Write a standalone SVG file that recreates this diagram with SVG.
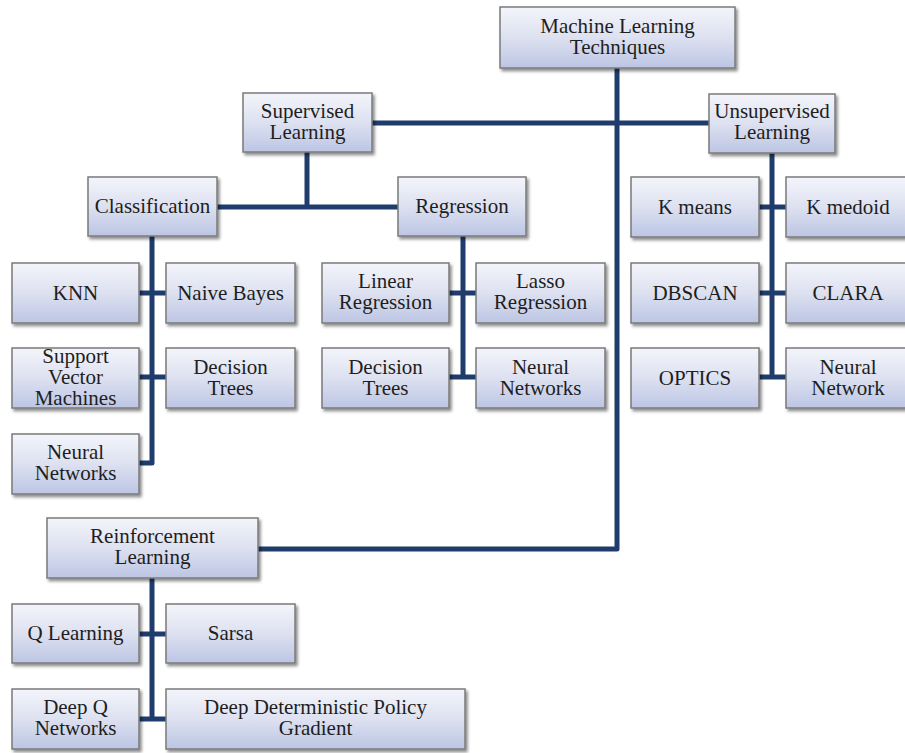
<svg xmlns="http://www.w3.org/2000/svg" width="905" height="753" viewBox="0 0 905 753">
  <defs>
    <linearGradient id="boxFill" x1="0" y1="0" x2="0" y2="1">
      <stop offset="0" stop-color="#f4f5fb"/>
      <stop offset="0.5" stop-color="#dde1f0"/>
      <stop offset="1" stop-color="#bcc5e4"/>
    </linearGradient>
    <filter id="shadow" x="-10%" y="-10%" width="130%" height="140%">
      <feDropShadow dx="2" dy="2.5" stdDeviation="1.6" flood-color="#000" flood-opacity="0.45"/>
    </filter>
  </defs>
  <style>
    .box { fill: url(#boxFill); stroke: #7a7a7a; stroke-width: 1.5; filter: url(#shadow); }
    .lbl { font-family: "Times New Roman", "Liberation Serif", serif; font-size: 21px; fill: #1e1e1e; text-anchor: middle; }
    .wire { fill: none; stroke: #1f3d6c; stroke-width: 5; stroke-linejoin: round; }
  </style>
  <rect width="905" height="753" fill="#ffffff"/>

  <!-- connectors -->
  <g id="connectors" class="wire">
    <!-- root trunk -->
    <path d="M617 68 V549 H258"/>
    <path d="M372 123 H709"/>
    <!-- supervised -->
    <path d="M307 152 V207"/>
    <path d="M217 207 H399"/>
    <!-- classification -->
    <path d="M152 236 V463 H139"/>
    <path d="M139 293 H166"/>
    <path d="M139 377 H166"/>
    <!-- regression -->
    <path d="M463 236 V377"/>
    <path d="M449 293 H476"/>
    <path d="M449 377 H476"/>
    <!-- unsupervised -->
    <path d="M772 153 V377"/>
    <path d="M759 207 H786"/>
    <path d="M759 293 H786"/>
    <path d="M759 377 H786"/>
    <!-- reinforcement -->
    <path d="M152 578 V719"/>
    <path d="M139 634 H166"/>
    <path d="M139 719 H166"/>
  </g>

  <!-- nodes -->
  <g id="ml-techniques">
    <rect class="box" x="500" y="7" width="235" height="61"/>
    <text class="lbl" x="617.5" y="33">Machine Learning</text>
    <text class="lbl" x="617.5" y="54">Techniques</text>
  </g>
  <g id="supervised">
    <rect class="box" x="243" y="93" width="129" height="59"/>
    <text class="lbl" x="307.5" y="118">Supervised</text>
    <text class="lbl" x="307.5" y="139">Learning</text>
  </g>
  <g id="unsupervised">
    <rect class="box" x="709" y="94" width="126" height="59"/>
    <text class="lbl" x="772" y="118">Unsupervised</text>
    <text class="lbl" x="772" y="139">Learning</text>
  </g>
  <g id="classification">
    <rect class="box" x="88" y="177" width="129" height="59"/>
    <text class="lbl" x="152.5" y="213">Classification</text>
  </g>
  <g id="regression">
    <rect class="box" x="398" y="177" width="128" height="59"/>
    <text class="lbl" x="462" y="213">Regression</text>
  </g>
  <g id="knn">
    <rect class="box" x="12" y="263" width="127" height="60"/>
    <text class="lbl" x="75.5" y="300">KNN</text>
  </g>
  <g id="naive-bayes">
    <rect class="box" x="166" y="263" width="129" height="60"/>
    <text class="lbl" x="230.5" y="300">Naive Bayes</text>
  </g>
  <g id="svm">
    <rect class="box" x="12" y="348" width="127" height="60"/>
    <text class="lbl" x="75.5" y="363">Support</text>
    <text class="lbl" x="75.5" y="384">Vector</text>
    <text class="lbl" x="75.5" y="405">Machines</text>
  </g>
  <g id="decision-trees-c">
    <rect class="box" x="166" y="348" width="129" height="60"/>
    <text class="lbl" x="230.5" y="374">Decision</text>
    <text class="lbl" x="230.5" y="395">Trees</text>
  </g>
  <g id="neural-networks-c">
    <rect class="box" x="12" y="434" width="127" height="60"/>
    <text class="lbl" x="75.5" y="459">Neural</text>
    <text class="lbl" x="75.5" y="480">Networks</text>
  </g>
  <g id="linear-regression">
    <rect class="box" x="322" y="263" width="127" height="60"/>
    <text class="lbl" x="385.5" y="288">Linear</text>
    <text class="lbl" x="385.5" y="309">Regression</text>
  </g>
  <g id="lasso-regression">
    <rect class="box" x="476" y="263" width="129" height="60"/>
    <text class="lbl" x="540.5" y="288">Lasso</text>
    <text class="lbl" x="540.5" y="309">Regression</text>
  </g>
  <g id="decision-trees-r">
    <rect class="box" x="322" y="348" width="127" height="60"/>
    <text class="lbl" x="385.5" y="374">Decision</text>
    <text class="lbl" x="385.5" y="395">Trees</text>
  </g>
  <g id="neural-networks-r">
    <rect class="box" x="476" y="348" width="129" height="60"/>
    <text class="lbl" x="540.5" y="374">Neural</text>
    <text class="lbl" x="540.5" y="395">Networks</text>
  </g>
  <g id="k-means">
    <rect class="box" x="631" y="177" width="128" height="60"/>
    <text class="lbl" x="695" y="214">K means</text>
  </g>
  <g id="k-medoid">
    <rect class="box" x="786" y="177" width="127" height="60"/>
    <text class="lbl" x="848" y="214">K medoid</text>
  </g>
  <g id="dbscan">
    <rect class="box" x="631" y="263" width="128" height="60"/>
    <text class="lbl" x="695" y="300">DBSCAN</text>
  </g>
  <g id="clara">
    <rect class="box" x="786" y="263" width="127" height="60"/>
    <text class="lbl" x="848" y="300">CLARA</text>
  </g>
  <g id="optics">
    <rect class="box" x="631" y="348" width="128" height="60"/>
    <text class="lbl" x="695" y="385">OPTICS</text>
  </g>
  <g id="neural-network-u">
    <rect class="box" x="786" y="348" width="127" height="60"/>
    <text class="lbl" x="848" y="374">Neural</text>
    <text class="lbl" x="848" y="395">Network</text>
  </g>
  <g id="reinforcement">
    <rect class="box" x="47" y="518" width="211" height="60"/>
    <text class="lbl" x="152.5" y="543">Reinforcement</text>
    <text class="lbl" x="152.5" y="564">Learning</text>
  </g>
  <g id="q-learning">
    <rect class="box" x="12" y="604" width="127" height="59"/>
    <text class="lbl" x="75.5" y="640">Q Learning</text>
  </g>
  <g id="sarsa">
    <rect class="box" x="166" y="604" width="129" height="59"/>
    <text class="lbl" x="230.5" y="640">Sarsa</text>
  </g>
  <g id="deep-q-networks">
    <rect class="box" x="12" y="689" width="127" height="60"/>
    <text class="lbl" x="75.5" y="714">Deep Q</text>
    <text class="lbl" x="75.5" y="735">Networks</text>
  </g>
  <g id="ddpg">
    <rect class="box" x="166" y="689" width="299" height="60"/>
    <text class="lbl" x="315.5" y="714">Deep Deterministic Policy</text>
    <text class="lbl" x="315.5" y="735">Gradient</text>
  </g>
</svg>
